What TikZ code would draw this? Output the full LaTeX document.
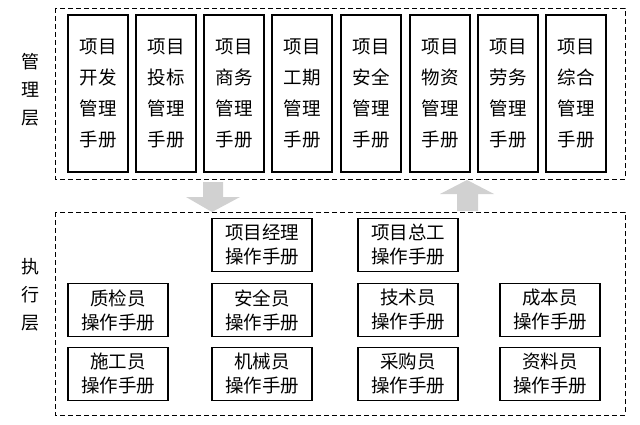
\documentclass[tikz,border=0pt]{standalone}
\usepackage{fontspec}
\setmainfont{Noto Sans CJK SC}
\begin{document}
\begin{tikzpicture}[x=1pt,y=-1pt,
  dbox/.style={draw,dashed,line width=0.9pt,dash pattern=on 5pt off 3pt},
  tall/.style={draw,line width=1.1pt,minimum width=60pt,minimum height=157pt,align=center,font=\fontsize{18.5}{31}\selectfont,inner sep=0pt},
  op/.style={draw,line width=1.1pt,minimum width=100pt,minimum height=53pt,align=center,font=\fontsize{18.5}{24}\selectfont,inner sep=0pt},
  lab/.style={align=center,font=\fontsize{18}{28}\selectfont},
  garrow/.style={fill=black!18,draw=none}]
\useasboundingbox (0,0) rectangle (640,425);
\draw[dbox] (55,8) rectangle (625,179);
\draw[dbox] (55,212) rectangle (625,415);
\node[lab] (m) at (30,90) {管\\理\\层};
\node[lab] (e) at (30,295) {执\\行\\层};
\foreach \x/\t [count=\i] in {98/开发,166/投标,234/商务,302/工期,371/安全,440/物资,508/劳务,576/综合}
  \node[tall] (t\i) at (\x,93.5) {项目\\\t\\管理\\手册};
\fill[garrow] (203,182) -- (223,182) -- (223,197) -- (240,197) -- (212,212) -- (186,197) -- (203,197) -- cycle;
\fill[garrow] (457,211) -- (478,211) -- (478,194) -- (494,194) -- (467,180) -- (440,194) -- (457,194) -- cycle;
\node[op] (a1) at (262,245) {项目经理\\操作手册};
\node[op] (a2) at (408,245) {项目总工\\操作手册};
\node[op] (b1) at (118,310) {质检员\\操作手册};
\node[op] (b2) at (262,310) {安全员\\操作手册};
\node[op] (b3) at (408,310) {技术员\\操作手册};
\node[op] (b4) at (550,310) {成本员\\操作手册};
\node[op] (c1) at (118,374) {施工员\\操作手册};
\node[op] (c2) at (262,374) {机械员\\操作手册};
\node[op] (c3) at (408,374) {采购员\\操作手册};
\node[op] (c4) at (550,374) {资料员\\操作手册};
\end{tikzpicture}
\end{document}
